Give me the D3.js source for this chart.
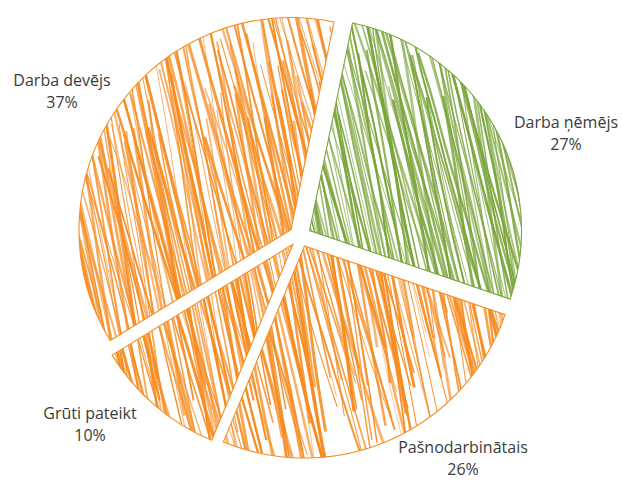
<!DOCTYPE html>
<meta charset="utf-8">
<script src="https://d3js.org/d3.v7.min.js"></script>
<style>
  body { margin: 0; background: #fff; }
  text { font-family: "Open Sans", sans-serif; font-size: 16px; fill: #3b3b3b; }
</style>
<div id="chart"></div>
<script>
  // data
  const labels = ["Darba ņēmējs", "Pašnodarbinātais", "Grūti pateikt", "Darba devējs"];
  const values = [27, 26, 10, 37];
  const colors = ["#79a53a", "#f68c22", "#f68c22", "#f68c22"];

  // layout
  const width = 622, height = 480;
  const cx = 300, cy = 236, radius = 212, explode = 11;
  const startAngle = 11.7 * Math.PI / 180;
  // label centre x / first baseline, tuned by eye
  const labelPos = [[566, 128], [463, 453], [90, 419], [62, 86]];

  const svg = d3.select("#chart")
    .append("svg")
    .attr("width", width)
    .attr("height", height);

  const pie = d3.pie().sort(null).startAngle(startAngle).endAngle(startAngle + 2 * Math.PI);
  const arcs = pie(values);
  const arc = d3.arc().innerRadius(0).outerRadius(radius);

  // small seeded generator just for the hand-drawn hatch jitter
  let seed = 11;
  function rnd() {
    seed = (seed * 16807) % 2147483647;
    return (seed - 1) / 2147483646;
  }

  const defs = svg.append("defs");
  const line = d3.line().curve(d3.curveBasis);

  arcs.forEach((a, i) => {
    const mid = (a.startAngle + a.endAngle) / 2;
    const ox = cx + Math.sin(mid) * explode;
    const oy = cy - Math.cos(mid) * explode;

    defs.append("clipPath")
      .attr("id", "clip" + i)
      .append("path")
      .attr("d", arc(a));

    const g = svg.append("g")
      .attr("transform", `translate(${ox},${oy})`);

    const hatch = g.append("g").attr("clip-path", `url(#clip${i})`);

    // sketchy hatch strokes
    for (let s = -radius - 30; s < radius + 30; s += 1.1 + rnd() * 2.2) {
      const th = (77 + (rnd() - 0.5) * 10) * Math.PI / 180;
      const dx = Math.cos(th), dy = Math.sin(th);
      const nx = Math.sin(th), ny = -Math.cos(th);
      const L = radius * 1.25;
      const t0 = -L + rnd() * L * 0.6, t1 = L - rnd() * L * 0.6;
      const pts = [];
      for (let k = 0; k <= 6; k++) {
        const t = t0 + (t1 - t0) * k / 6;
        const w = (rnd() - 0.5) * 3.5;
        pts.push([nx * (s + w) + dx * t, ny * (s + w) + dy * t]);
      }
      hatch.append("path")
        .attr("d", line(pts))
        .attr("fill", "none")
        .attr("stroke", colors[i])
        .attr("stroke-width", 0.7 + rnd() * 2.3)
        .attr("stroke-opacity", 0.6 + rnd() * 0.4);
    }

    g.append("path")
      .attr("d", arc(a))
      .attr("fill", "none")
      .attr("stroke", colors[i])
      .attr("stroke-width", 1.1);
  });

  // labels
  arcs.forEach((a, i) => {
    const t = svg.append("text")
      .attr("text-anchor", "middle")
      .attr("x", labelPos[i][0])
      .attr("y", labelPos[i][1]);
    t.append("tspan").attr("x", labelPos[i][0]).text(labels[i]);
    t.append("tspan").attr("x", labelPos[i][0]).attr("dy", 22).text(values[i] + "%");
  });
</script>
